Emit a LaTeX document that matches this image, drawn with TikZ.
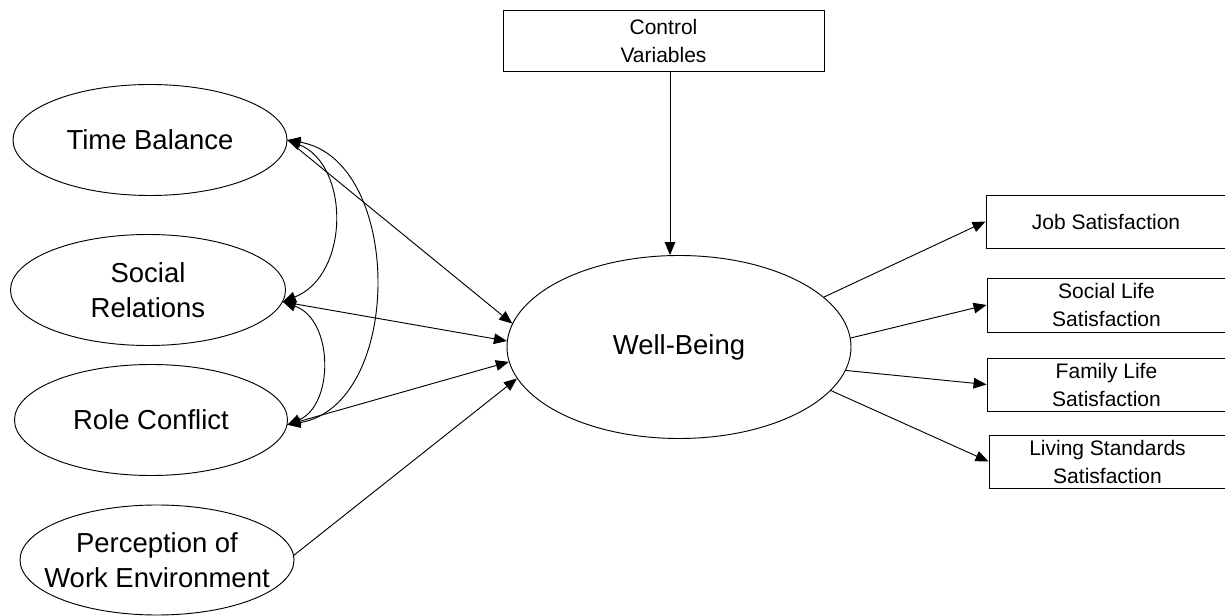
\documentclass[tikz,border=0pt]{standalone}
\usepackage{fontspec}
\setmainfont{Liberation Sans}
\usetikzlibrary{shapes.geometric,arrows.meta}
\begin{document}
\begin{tikzpicture}[x=0.75pt,y=-0.75pt,
  line width=0.7pt,
  latent/.style={draw, ellipse, inner xsep=-40pt, inner ysep=-20pt, align=center,
    font=\fontsize{20.6}{26.25}\selectfont},
  indicator/.style={draw, rectangle, inner sep=0pt, align=center,
    font=\fontsize{15.75}{21}\selectfont},
  tip/.tip={Triangle[length=9.75pt,width=8pt]},
  causal/.style={-tip},
  corr/.style={tip-tip}
]
\useasboundingbox (0,0) rectangle (1225,616);
\clip (0,0) rectangle (1225,616);

% exogenous constructs
\node[latent, minimum width=205.5pt, minimum height=83.25pt] (tb) at (150,140) {Time Balance};
\node[latent, minimum width=206.25pt, minimum height=83.25pt] (sr) at (148,290) {Social\\Relations};
\node[latent, minimum width=204.75pt, minimum height=83.25pt] (rc) at (151,420) {Role Conflict};
\node[latent, minimum width=205.5pt, minimum height=82.5pt] (pwe) at (157,560) {Perception of\\Work Environment};

% central construct
\node[latent, minimum width=258pt, minimum height=137.25pt] (wb) at (679,347) {Well-Being};

% controls
\node[indicator, minimum width=240.75pt, minimum height=45.75pt] (ctrl) at (663.5,40.5) {Control\\Variables};

% outcome indicators
\node[indicator, minimum width=180pt, minimum height=39.75pt] (job) at (1106,221.5) {Job Satisfaction};
\node[indicator, minimum width=179.25pt, minimum height=40.5pt] (social) at (1106.5,305) {Social Life\\Satisfaction};
\node[indicator, minimum width=179.25pt, minimum height=39.75pt] (family) at (1106.5,384.5) {Family Life\\Satisfaction};
\node[indicator, minimum width=177.75pt, minimum height=39.75pt] (living) at (1107.5,461.5) {Living Standards\\Satisfaction};

% correlations among exogenous constructs
\draw[corr] (tb.east) .. controls (350,165) and (350,275) .. (sr.-5);
\draw[corr] (tb.east) .. controls (404,160) and (404,405) .. (rc.-2);
\draw[corr] (sr.-5) .. controls (334,320) and (334,405) .. (rc.-2);

% paths into well-being
\draw[causal] (tb.east) -- (wb.172);
\draw[causal] (sr.-5) -- (wb.178);
\draw[causal] (rc.-2) -- (wb.185);
\draw[causal] (pwe.2) -- (wb.191);
\coordinate (cv) at ([xshift=4.875pt]ctrl.south);
\draw[causal] (cv) -- (cv |- wb.north);

% paths out of well-being
\draw[causal] (wb.19) -- (job.west);
\draw[causal] (wb.3.7) -- (social.west);
\draw[causal] (wb.-8.5) -- (family.west);
\draw[causal] (wb.-16) -- (living.west);
\end{tikzpicture}
\end{document}
